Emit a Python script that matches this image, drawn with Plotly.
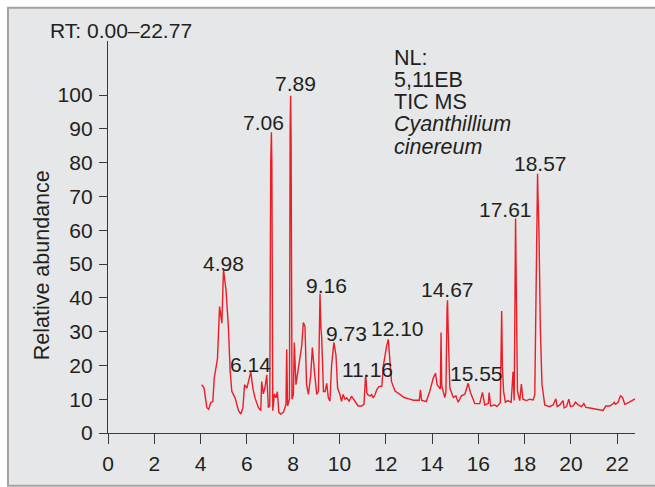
import plotly.graph_objects as go

# ---------------- data ----------------
rt = [4.05, 4.15, 4.27, 4.35, 4.44, 4.53, 4.59, 4.73, 4.82, 4.88, 4.92, 4.99, 5.10, 5.20, 5.28,
      5.35, 5.49, 5.64, 5.74, 5.83, 5.90, 6.00, 6.07, 6.17, 6.26, 6.35, 6.50, 6.60, 6.64, 6.71,
      6.78, 6.86, 6.93, 6.99, 7.03, 7.06, 7.08, 7.12, 7.19, 7.26, 7.32, 7.38, 7.46, 7.58, 7.69,
      7.72, 7.76, 7.80, 7.84, 7.87, 7.89, 7.91, 7.95, 8.01, 8.05, 8.12, 8.18, 8.27, 8.37, 8.44,
      8.51, 8.58, 8.66, 8.76, 8.83, 8.92, 9.02, 9.09, 9.14, 9.16, 9.20, 9.23, 9.31, 9.38, 9.45,
      9.52, 9.59, 9.66, 9.76, 9.85, 9.92, 10.02, 10.09, 10.16, 10.24, 10.31, 10.42, 10.52, 10.67,
      10.81, 10.96, 11.06, 11.12, 11.14, 11.18, 11.22, 11.32, 11.39, 11.46, 11.54, 11.61, 11.71,
      11.83, 11.90, 12.04, 12.11, 12.25, 12.40, 12.60, 12.80, 13.00, 13.20, 13.45, 13.50, 13.55,
      13.75, 13.90, 14.05, 14.15, 14.22, 14.33, 14.36, 14.39, 14.42, 14.55, 14.60, 14.65, 14.67,
      14.70, 14.77, 14.92, 15.03, 15.13, 15.27, 15.42, 15.56, 15.66, 15.85, 16.06, 16.18, 16.28,
      16.43, 16.47, 16.53, 16.71, 16.81, 16.95, 16.99, 17.01, 17.04, 17.09, 17.17, 17.27, 17.42,
      17.50, 17.55, 17.59, 17.61, 17.63, 17.69, 17.79, 17.86, 17.93, 18.08, 18.22, 18.37, 18.44,
      18.51, 18.56, 18.58, 18.62, 18.68, 18.75, 18.87, 19.08, 19.23, 19.35, 19.41, 19.52, 19.66,
      19.71, 19.81, 19.91, 19.98, 20.10, 20.20, 20.31, 20.46, 20.56, 20.65, 20.82, 21.10, 21.39,
      21.51, 21.68, 21.83, 21.87, 21.93, 22.04, 22.14, 22.23, 22.33, 22.47, 22.77]
abundance = [14.3, 13.3, 7.5, 7.0, 9.0, 9.3, 16.2, 22.0, 37.4, 35.0, 32.5, 48.4, 42.2, 31.6, 18.1,
             12.3, 10.4, 6.6, 5.6, 7.5, 14.3, 13.3, 15.2, 18.1, 13.3, 10.4, 7.5, 6.6, 15.2, 11.6,
             13.3, 17.2, 7.5, 8.0, 80.0, 89.0, 80.0, 6.6, 11.6, 10.4, 12.2, 6.1, 5.6, 6.1, 8.5,
             24.8, 8.0, 9.0, 10.0, 90.0, 99.8, 88.0, 10.0, 11.4, 26.8, 14.3, 17.2, 22.0, 25.8, 32.7,
             31.6, 14.3, 11.4, 17.2, 25.3, 18.1, 11.4, 12.3, 35.0, 41.2, 31.0, 28.7, 12.3, 12.3, 14.7,
             10.4, 9.4, 20.0, 26.8, 23.0, 13.3, 11.4, 9.4, 11.4, 10.0, 10.4, 9.4, 10.9, 9.4,
             8.0, 8.0, 8.5, 16.0, 17.2, 12.0, 11.4, 10.9, 11.4, 10.4, 11.4, 12.8, 13.8,
             13.8, 20.0, 25.8, 27.7, 15.2, 12.4, 11.5, 10.5, 10.1, 9.7, 9.7, 12.8, 9.7,
             9.3, 12.3, 16.2, 17.7, 14.3, 13.3, 13.0, 29.7, 14.0, 10.5, 12.0, 37.0, 39.3,
             30.0, 13.3, 10.5, 11.0, 9.1, 11.0, 11.5, 14.7, 12.0, 8.7, 8.7, 12.0, 8.3,
             8.7, 12.0, 8.0, 8.3, 7.8, 9.0, 33.0, 36.1, 20.0, 12.4, 9.1, 9.6, 9.1,
             18.1, 9.6, 55.0, 63.5, 50.0, 12.4, 9.6, 14.5, 10.0, 9.6, 10.0, 9.8, 11.3,
             48.9, 76.7, 70.0, 60.0, 31.0, 14.5, 8.3, 7.8, 8.3, 10.1, 7.8, 8.3, 9.6,
             7.4, 7.8, 10.0, 7.8, 8.0, 9.1, 8.3, 7.8, 8.7, 7.6, 7.4, 7.1, 6.7,
             8.0, 8.0, 8.7, 9.1, 8.5, 9.1, 11.0, 10.5, 8.5, 8.9, 10.1]

peak_labels = ["4.98", "6.14", "7.06", "7.89", "9.16", "9.73", "11.16", "12.10",
               "14.67", "15.55", "17.61", "18.57"]
x_ticks = [0, 2, 4, 6, 8, 10, 12, 14, 16, 18, 20, 22]
y_ticks = [0, 10, 20, 30, 40, 50, 60, 70, 80, 90, 100]
info_lines = ["NL:", "5,11EB", "TIC MS", "<i>Cyanthillium</i>", "<i>cinereum</i>"]
range_text = "RT: 0.00–22.77"
y_title = "Relative abundance"

# ---------------- layout helpers ----------------
W_PX, H_PX = 655, 487
ML, MR, MT, MB = 108, 20, 41, 44
PW, PH = W_PX - ML - MR, H_PX - MT - MB


def px_x(px):
    return (px - ML) / PW


def px_y(py):
    return (H_PX - MB - py) / PH


FONT = "Liberation Sans, Arial, Helvetica, sans-serif"
TXT = "#231f20"
RED = "#ee1c25"

# label offsets (pixels) relative to each peak apex
label_dx = [0, 0, -8, 5, 6, 13, 1, 9, 0, 9, -10, 3]
label_dy = [6, 7, 10, 12, 8, 9, 5, 11, 11, 10, 9, 10]

fig = go.Figure()
fig.add_trace(go.Scatter(x=rt, y=abundance, mode="lines",
                         line=dict(color=RED, width=1.4), hoverinfo="skip",
                         showlegend=False))

annotations = []
for lab, dx, dy in zip(peak_labels, label_dx, label_dy):
    xv = float(lab)
    cand = [y for x, y in zip(rt, abundance) if abs(x - xv) <= 0.06]
    apex = max(cand) if cand else 0
    annotations.append(dict(x=xv, y=apex, xref="x", yref="y", text=lab, showarrow=False,
                            xanchor="center", yanchor="middle", xshift=dx, yshift=dy,
                            font=dict(family=FONT, size=21, color=TXT)))

# info block
info_y = [58.5, 81, 103.5, 126.5, 149.5]
for t, yy in zip(info_lines, info_y):
    annotations.append(dict(x=px_x(392), y=px_y(yy), xref="paper", yref="paper", text=t,
                            showarrow=False, xanchor="left", yanchor="middle",
                            font=dict(family=FONT, size=21.5, color=TXT)))

annotations.append(dict(x=px_x(48), y=px_y(30.5), xref="paper", yref="paper", text=range_text,
                        showarrow=False, xanchor="left", yanchor="middle",
                        font=dict(family=FONT, size=21, color=TXT)))
annotations.append(dict(x=px_x(42), y=px_y(271), xref="paper", yref="paper", text=y_title,
                        showarrow=False, xanchor="center", yanchor="middle", textangle=-90,
                        font=dict(family=FONT, size=21.5, color=TXT)))

shapes = [dict(type="rect", xref="paper", yref="paper", layer="below",
               x0=px_x(8), y0=px_y(7), x1=px_x(W_PX + 10), y1=px_y(H_PX + 10),
               fillcolor="#e6e7e8", line=dict(color="#a3a3a3", width=2))]

axis_common = dict(showline=True, linecolor="#3a3a3a", linewidth=1.3, ticks="outside",
                   tickcolor="#3a3a3a", tickwidth=1.3, showgrid=False, zeroline=False,
                   tickfont=dict(family=FONT, size=21, color=TXT))

fig.update_layout(
    width=W_PX, height=H_PX,
    margin=dict(l=ML, r=MR, t=MT, b=MB, pad=0),
    paper_bgcolor="white", plot_bgcolor="white",
    xaxis=dict(range=[0, 22.77], tickvals=x_ticks, ticklen=10, ticklabelstandoff=2,
               **axis_common),
    yaxis=dict(range=[0, 116], tickvals=y_ticks, ticklen=8, ticklabelstandoff=2,
               **axis_common),
    annotations=annotations, shapes=shapes,
)

fig.write_html("out.html")
